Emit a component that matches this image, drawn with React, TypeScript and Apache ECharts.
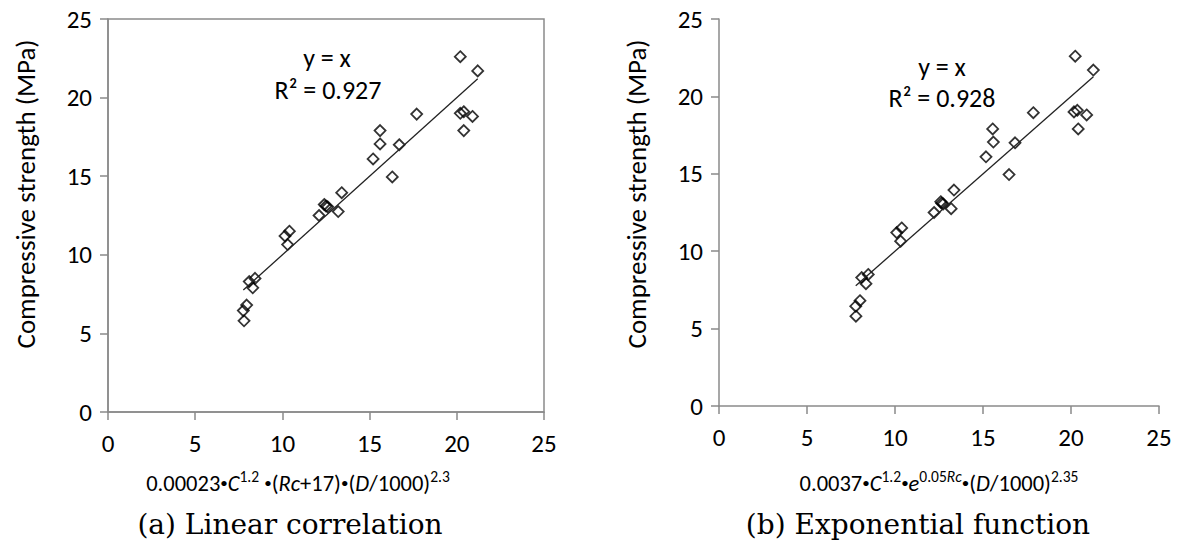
import React, { useEffect, useRef } from "react";
import * as echarts from "echarts";

// Compressive strength (MPa), same measured values in both panels
const strength = [22.6, 21.7, 18.95, 19.0, 19.1, 18.8, 17.9, 17.9, 17.05, 17.0, 16.1, 14.95, 13.95, 13.2, 13.05, 13.1, 12.5, 12.75, 11.5, 11.2, 10.65, 8.5, 8.3, 7.9, 6.8, 6.45, 5.8];
// (a) linear correlation predictor
const linearX = [20.2, 21.2, 17.7, 20.2, 20.4, 20.9, 20.4, 15.6, 15.6, 16.7, 15.2, 16.3, 13.4, 12.4, 12.6, 12.5, 12.1, 13.2, 10.4, 10.15, 10.3, 8.43, 8.1, 8.3, 7.95, 7.76, 7.8];
// (b) exponential function predictor
const expX = [20.24, 21.27, 17.86, 20.17, 20.36, 20.89, 20.41, 15.55, 15.59, 16.82, 15.17, 16.48, 13.35, 12.6, 12.74, 12.65, 12.22, 13.19, 10.38, 10.1, 10.32, 8.48, 8.11, 8.35, 8.01, 7.77, 7.78];
const tickValues = [0, 5, 10, 15, 20, 25];
const r2Labels = ["R² = 0.927", "R² = 0.928"];
const captions = ["(a) Linear correlation", "(b) Exponential function"];
const yTitle = "Compressive strength (MPa)";

const SANS = "Carlito, Lato, sans-serif";
const SERIF = "'DejaVu Serif', serif";
const AXIS_GRAY = "#8a8a8a";

function pairs(xs: number[], ys: number[]) {
  return xs.map((x, i) => [x, ys[i]]);
}
function fitLine(xs: number[]) {
  const lo = Math.min(...xs);
  const hi = Math.max(...xs);
  return [[lo, lo], [hi, hi]];
}

export default function App() {
  const ref = useRef<HTMLDivElement>(null);
  useEffect(() => {
    document.body.style.margin = "0";
    const chart = echarts.init(ref.current!, null, { renderer: "svg" });
    const axisCommon = (idx: number) => ({
      gridIndex: idx,
      type: "value" as const,
      min: tickValues[0],
      max: tickValues[tickValues.length - 1],
      interval: tickValues[1] - tickValues[0],
      splitLine: { show: false },
      axisLine: { show: true, onZero: false, lineStyle: { color: AXIS_GRAY, width: 1.5 } },
      axisTick: { show: true, inside: false, length: 8, lineStyle: { color: AXIS_GRAY, width: 1.5 } },
      axisLabel: { color: "#000", fontFamily: SANS, fontSize: 25 },
    });
    const sub = {
      n: { fontFamily: SANS, fontSize: 22.5, lineHeight: 30, color: "#000" },
      b: { fontFamily: SANS, fontSize: 15, lineHeight: 30, color: "#000" },
      i: { fontFamily: SANS, fontSize: 22.5, lineHeight: 30, fontStyle: "italic", color: "#000" },
      s: { fontFamily: SANS, fontSize: 15.5, lineHeight: 16, verticalAlign: "top", color: "#000" },
      si: { fontFamily: SANS, fontSize: 15.5, lineHeight: 16, verticalAlign: "top", fontStyle: "italic", color: "#000" },
    };
    const centerText = (x: number, y: number, text: string, size: number, family: string, rotation = 0) => ({
      type: "text",
      x,
      y,
      rotation,
      style: { text, fontSize: size, fontFamily: family, fill: "#000", align: "center", verticalAlign: "middle" },
    });
    const option: any = {
      animation: false,
      backgroundColor: "#fff",
      grid: [
        { left: 108, top: 19, width: 436, height: 393, show: true, borderColor: AXIS_GRAY, borderWidth: 1.5, backgroundColor: "transparent" },
        { left: 719, top: 19, width: 440, height: 387 },
      ],
      xAxis: [0, 1].map((i) => ({
        ...axisCommon(i),
        axisLabel: { ...axisCommon(i).axisLabel, margin: 19 },
      })),
      yAxis: [0, 1].map((i) => ({
        ...axisCommon(i),
        axisLabel: { ...axisCommon(i).axisLabel, margin: 16 },
      })),
      series: [
        { type: "line", xAxisIndex: 0, yAxisIndex: 0, data: fitLine(linearX), symbol: "none", lineStyle: { color: "#222", width: 1.3 } },
        { type: "line", xAxisIndex: 1, yAxisIndex: 1, data: fitLine(expX), symbol: "none", lineStyle: { color: "#222", width: 1.3 } },
        {
          type: "scatter", xAxisIndex: 0, yAxisIndex: 0, data: pairs(linearX, strength),
          symbol: "diamond", symbolSize: 11,
          itemStyle: { color: "transparent", borderColor: "#000", borderWidth: 1.8 },
        },
        {
          type: "scatter", xAxisIndex: 1, yAxisIndex: 1, data: pairs(expX, strength),
          symbol: "diamond", symbolSize: 11,
          itemStyle: { color: "transparent", borderColor: "#000", borderWidth: 1.8 },
        },
      ],
      graphic: [
        centerText(25, 194, yTitle, 27, SANS, Math.PI / 2),
        centerText(636, 194, yTitle, 27, SANS, Math.PI / 2),
        centerText(327, 58, "y = x", 26, SANS),
        centerText(328, 90, r2Labels[0], 26, SANS),
        centerText(942, 67, "y = x", 26, SANS),
        centerText(942, 98, r2Labels[1], 26, SANS),
        {
          type: "text", x: 298, y: 483,
          style: {
            text: "{n|0.00023}{b|•}{i|C}{s|1.2}{n| }{b|•}{n|(}{i|Rc}{n|+17)}{b|•}{n|(}{i|D}{n|/1000)}{s|2.3}",
            rich: sub, align: "center", verticalAlign: "middle",
          },
        },
        {
          type: "text", x: 939, y: 483,
          style: {
            text: "{n|0.0037}{b|•}{i|C}{s|1.2}{b|•}{i|e}{s|0.05}{si|Rc}{b|•}{n|(}{i|D}{n|/1000)}{s|2.35}",
            rich: sub, align: "center", verticalAlign: "middle",
          },
        },
        centerText(290, 524, captions[0], 28, SERIF),
        centerText(918, 524, captions[1], 28, SERIF),
      ],
    };
    chart.setOption(option);
    return () => chart.dispose();
  }, []);
  return <div ref={ref} style={{ width: 1188, height: 557 }} />;
}
